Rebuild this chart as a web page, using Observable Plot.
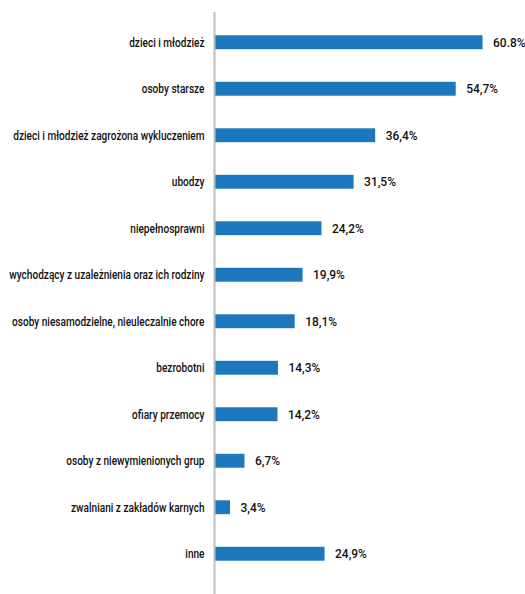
<!DOCTYPE html>
<html>
<head>
<meta charset="utf-8">
<script src="https://cdn.jsdelivr.net/npm/d3@7"></script>
<script src="https://cdn.jsdelivr.net/npm/@observablehq/plot@0.6"></script>
<style>
  html, body { margin: 0; padding: 0; background: #fff; }
  #chart svg { display: block; }
</style>
</head>
<body>
<div id="chart"></div>
<script>
// Target groups and share of responses (%)
const groups = [
  "dzieci i młodzież",
  "osoby starsze",
  "dzieci i młodzież zagrożona wykluczeniem",
  "ubodzy",
  "niepełnosprawni",
  "wychodzący z uzależnienia oraz ich rodziny",
  "osoby niesamodzielne, nieuleczalnie chore",
  "bezrobotni",
  "ofiary przemocy",
  "osoby z niewymienionych grup",
  "zwalniani z zakładów karnych",
  "inne"
];
const shares = [60.8, 54.7, 36.4, 31.5, 24.2, 19.9, 18.1, 14.3, 14.2, 6.7, 3.4, 24.9];
const shareLabels = ["60.8%", "54,7%", "36,4%", "31,5%", "24,2%", "19,9%", "18,1%", "14,3%", "14,2%", "6,7%", "3,4%", "24,9%"];

const rows = groups.map((g, i) => ({group: g, share: shares[i], label: shareLabels[i]}));

const font = "Roboto, 'Noto Sans', sans-serif";

const chart = Plot.plot({
  width: 525,
  height: 594,
  marginLeft: 215,
  marginRight: 0,
  marginTop: 19,
  marginBottom: 17,
  style: {fontFamily: font, fontSize: "12px", fontWeight: 500, color: "#111", background: "#fff"},
  x: {domain: [0, 70.45], axis: null},
  y: {domain: groups, padding: 0, round: false, label: null, tickSize: 0, tickPadding: 11},
  marks: [
    Plot.barX(rows, {x: "share", y: "group", fill: "#1c77bd", insetTop: 16.3, insetBottom: 16.3}),
    Plot.text(rows, {x: "share", y: "group", text: "label", dx: 10, textAnchor: "start", fill: "#111", fontSize: 13, className: "share-label"}),
    Plot.ruleX([0], {stroke: "#bdbdbd", strokeWidth: 2, dx: -1, insetTop: -7, insetBottom: -17})
  ]
});

// Narrow every label horizontally around its anchor for a condensed type look
d3.select(chart).selectAll("text").each(function() {
  const isShare = this.closest(".share-label") !== null;
  const t = this.getAttribute("transform") || "";
  this.setAttribute("transform", `${t} scale(${isShare ? 0.92 : 0.84},1)`);
});

document.getElementById("chart").append(chart);
</script>
</body>
</html>
